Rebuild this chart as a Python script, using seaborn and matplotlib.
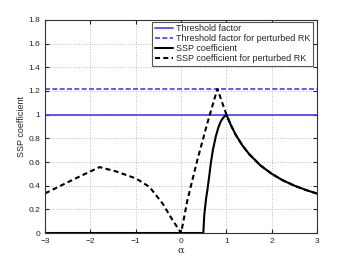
import matplotlib
matplotlib.use("Agg")
import matplotlib.pyplot as plt
import numpy as np
import seaborn as sns

# values
alpha_range = [-3, 3]
threshold = 1.0
threshold_perturbed = 1.22

ssp_alpha = [-3.0, 0.49, 0.51, 0.55, 0.58, 0.62, 0.655, 0.7, 0.765, 0.82, 0.875, 0.93, 1.0,
             1.1, 1.2, 1.35, 1.5, 1.75, 2.0, 2.25, 2.5, 2.75, 3.0]
ssp_coef = [0.0, 0.0, 0.15, 0.29, 0.364, 0.48, 0.59, 0.70, 0.816, 0.89, 0.943, 0.975, 1.0,
            0.91, 0.833, 0.741, 0.667, 0.571, 0.5, 0.444, 0.4, 0.364, 0.333]

pert_alpha = [-3.0, -2.39, -1.8, -1.43, -0.99, -0.70, -0.41, -0.19, 0.0,
              0.14, 0.36, 0.58, 0.80, 1.0,
              1.1, 1.2, 1.35, 1.5, 1.75, 2.0, 2.25, 2.5, 2.75, 3.0]
pert_coef = [0.335, 0.45, 0.557, 0.52, 0.46, 0.39, 0.25, 0.11, 0.0,
             0.28, 0.62, 0.93, 1.218, 1.0,
             0.91, 0.833, 0.741, 0.667, 0.571, 0.5, 0.444, 0.4, 0.364, 0.333]

sns.set_style("ticks")
plt.rcParams['font.family'] = ['Liberation Sans', 'DejaVu Sans']

fig = plt.figure(figsize=(3.5, 2.63), dpi=100)
ax = fig.add_axes([0.129, 0.114, 0.777, 0.81])

blue = '#3f3fff'
sns.lineplot(x=alpha_range, y=[threshold] * 2, ax=ax, color=blue, lw=1.2,
             label='Threshold factor')
sns.lineplot(x=alpha_range, y=[threshold_perturbed] * 2, ax=ax, color=blue, lw=1.2,
             label='Threshold factor for perturbed RK')
ax.lines[-1].set_dashes((3.0, 1.4))
sns.lineplot(x=ssp_alpha, y=ssp_coef, ax=ax, color='black', lw=1.5,
             label='SSP coefficient', sort=False)
sns.lineplot(x=pert_alpha, y=pert_coef, ax=ax, color='black', lw=1.5,
             label='SSP coefficient for perturbed RK', sort=False)
ax.lines[-1].set_dashes((2.4, 1.6))

ax.set_xlim(-3, 3)
ax.set_ylim(0, 1.8)
ax.set_xticks(np.arange(-3, 4, 1))
ax.set_yticks(np.round(np.arange(0, 1.81, 0.2), 1))
ax.set_yticklabels(['0', '0.2', '0.4', '0.6', '0.8', '1', '1.2', '1.4', '1.6', '1.8'])
ax.set_xticklabels(['\u22123', '\u22122', '\u22121', '0', '1', '2', '3'])
ax.grid(True, color='#bbbbbb', linestyle=':', linewidth=0.7)
ax.tick_params(direction='in', length=3, labelsize=6, colors='#222222', top=True, right=True)
for s in ax.spines.values():
    s.set_linewidth(0.8)
    s.set_color('#333333')
ax.set_xlabel('\u03b1', fontsize=7, family='DejaVu Serif', labelpad=1)
ax.set_ylabel('SSP coefficient', fontsize=6.5, labelpad=2)

leg = ax.legend(loc='upper right', bbox_to_anchor=(0.985, 0.992), borderaxespad=0,
                fontsize=6.5, frameon=True, fancybox=False,
                handlelength=2.0, handletextpad=0.3, borderpad=0.3, labelspacing=0.1,
                edgecolor='#555555', framealpha=1)
leg.get_frame().set_linewidth(0.8)

fig.savefig('out.png', dpi=100)
